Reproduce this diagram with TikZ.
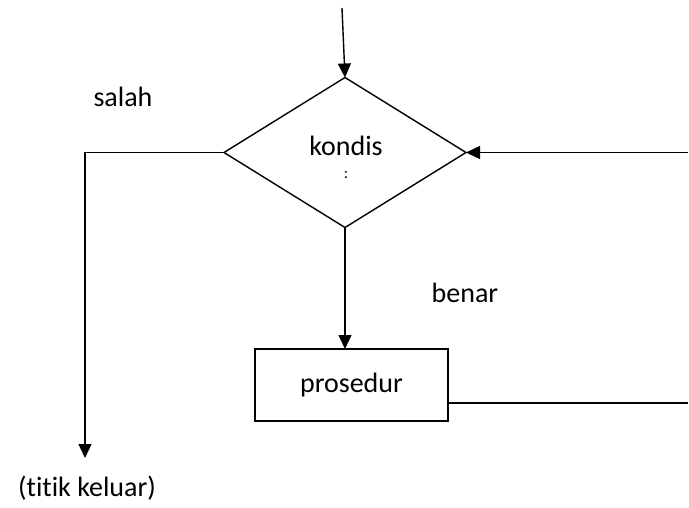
\documentclass[tikz,border=0pt]{standalone}
\usepackage{fontspec}
\setmainfont{Carlito}[Ligatures=NoCommon]
\usetikzlibrary{shapes.geometric,arrows.meta}
\begin{document}
\begin{tikzpicture}[x=1pt,y=-1pt,
  flow/.style={line width=1.4pt},
  arr/.style={flow,-{Triangle[width=13pt,length=14pt]}},
  decision/.style={draw,line width=1.4pt,diamond,minimum width=242pt,minimum height=150pt,inner sep=0pt,outer sep=0pt},
  procbox/.style={draw,line width=1.4pt,rectangle,minimum width=193pt,minimum height=72pt,inner sep=0pt,outer sep=0pt,font=\fontsize{28}{34}\selectfont},
  lbl/.style={inner sep=0pt,font=\fontsize{28}{34}\selectfont}]
  \useasboundingbox (0,0) rectangle (689,508);

  % shapes
  \node[decision] (cond) at (345,152.5) {};
  \node[procbox] (proc) at (351.5,385) {prosedur};

  % texts
  \node[lbl] (kondis) at (346,146) {kondis};
  \node[inner sep=0pt,font=\fontsize{16}{18}\selectfont] (dots) at (346,175) {:};
  \node[lbl] (salah) at (123,97) {salah};
  \node[lbl] (benar) at (465,293) {benar};
  \node[lbl] (exit) at (87,488) {(titik keluar)};

  % free ends of the connectors
  \coordinate (start) at (342,8);
  \coordinate (back) at (688,152.5);
  \coordinate (loop) at (688,403);
  \coordinate (corner) at (85,152.5);
  \coordinate (out) at (85,458);

  % connectors
  \draw[arr] (start) -- (cond.north);
  \draw[arr] (back) -- (cond.east);
  \draw[arr] (cond.south) -- (cond.south |- proc.north);
  \draw[arr] (cond.west) -- (corner) -- (out);
  \draw[flow] (proc.east |- loop) -- (loop);
\end{tikzpicture}
\end{document}
